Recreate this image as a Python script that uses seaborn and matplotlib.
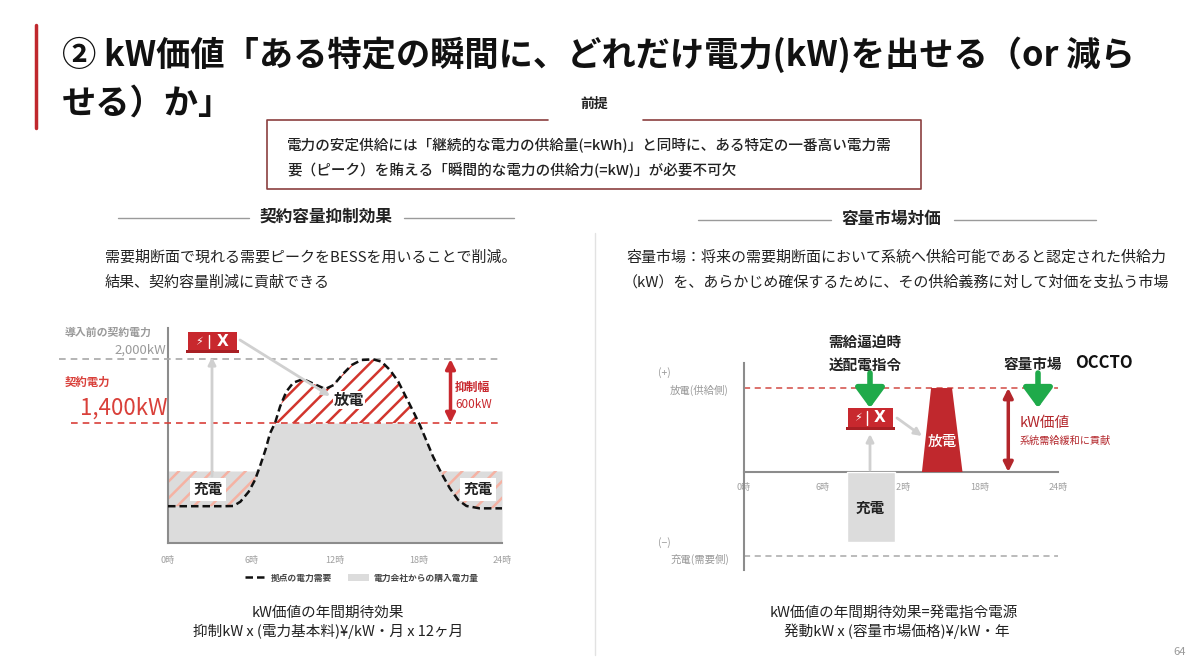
import numpy as np
import matplotlib
matplotlib.use('Agg')
import matplotlib.pyplot as plt
import seaborn as sns
from matplotlib.patches import Rectangle, Patch
from matplotlib.lines import Line2D

# ---- left chart: demand of the site (hour, kW) ----
demand_hours = [0, 1, 2, 3, 4, 4.7, 5.2, 5.8, 6.25, 6.6, 7.0, 7.33, 7.7, 8.05, 8.5, 9.0,
                9.7, 10.4, 11.3, 11.9, 12.5, 13.2, 13.9, 14.75, 15.35, 15.95, 16.55, 17.15,
                17.75, 18.1, 18.6, 19.05, 19.65, 20.25, 20.85, 21.45, 22.4, 24]
demand_kw = [620, 620, 620, 620, 620, 622, 662, 756, 866, 991, 1147, 1303, 1403, 1553, 1694, 1778,
             1812, 1772, 1719, 1756, 1850, 1944, 1991, 1997, 1975, 1897, 1787, 1631,
             1475, 1381, 1225, 1084, 928, 788, 678, 622, 600, 600]
contract_before_kw = 2000
contract_kw = 1400
charge_kw = 950
left_ylim = (275, 2291)

# ---- right chart: dispatch (hour, +1 discharge / -1 charge) ----
discharge_hours = [13.6, 14.3, 15.9, 16.7]
discharge_level = [0, 1, 1, 0]
charge_hours = [7.9, 11.55]
charge_level = -0.83
right_ylim = (-1.167, 1.298)

hour_ticks = [0, 6, 12, 18, 24]
hour_labels = ['0時', '6時', '12時', '18時', '24時']

RED = '#c8282e'
GRAY_FILL = '#dcdcdc'
TXT = '#222222'

sns.set_theme(style='white')
plt.rcParams['font.family'] = ['Noto Sans CJK JP', 'DejaVu Sans']
plt.rcParams['hatch.linewidth'] = 1.8

W, H = 1200, 666
fig = plt.figure(figsize=(12, 6.66), dpi=100)
fig.patch.set_facecolor('white')


def px_rect(x0, y0, x1, y1):
    return [x0 / W, (H - y1) / H, (x1 - x0) / W, (y1 - y0) / H]


ax1 = fig.add_axes(px_rect(168, 328, 502, 543))
ax2 = fig.add_axes(px_rect(744, 363, 1058, 570))
ax0 = fig.add_axes([0, 0, 1, 1])
ax0.set_xlim(0, W)
ax0.set_ylim(H, 0)
ax0.axis('off')
ax0.patch.set_alpha(0)

# ---------------- left chart ----------------
h = np.array(demand_hours, dtype=float)
d = np.array(demand_kw, dtype=float)
purchased = np.clip(d, charge_kw, contract_kw)

ax1.set_facecolor('none')
ax1.set_xlim(0, 24)
ax1.set_ylim(*left_ylim)
ax1.fill_between(h, left_ylim[0], purchased, color=GRAY_FILL, lw=0, zorder=1)
ax1.fill_between(h, contract_kw, d, where=d > contract_kw, interpolate=True,
                 facecolor='none', edgecolor='#d2352d', hatch='//', lw=0, zorder=2)
ax1.fill_between(h, d, charge_kw, where=d < charge_kw, interpolate=True,
                 facecolor='none', edgecolor='#f5b2a3', hatch='//', lw=0, zorder=2)
ax1.plot(h, d, color='#111111', lw=1.8, ls=(0, (3, 1.6)), zorder=4)
ax1.plot([-7.8, 24], [contract_before_kw] * 2, color='#a8a8a8', lw=1.2,
         ls=(0, (4, 3)), clip_on=False, zorder=3)
ax1.plot([-7.0, 24], [contract_kw] * 2, color='#d9403a', lw=1.2,
         ls=(0, (4, 3)), clip_on=False, zorder=3)
for s in ['top', 'right']:
    ax1.spines[s].set_visible(False)
for s in ['left', 'bottom']:
    ax1.spines[s].set_color('#8c8c8c')
    ax1.spines[s].set_linewidth(1.5)
ax1.set_xticks(hour_ticks)
ax1.set_xticklabels(hour_labels)
ax1.set_yticks([])
ax1.tick_params(axis='x', length=0, pad=9, labelsize=6.5, labelcolor='#a0a0a0')
ax1.annotate('', xy=(20.3, contract_before_kw), xytext=(20.3, contract_kw),
             arrowprops=dict(arrowstyle='<|-|>', color=RED, lw=2.5, mutation_scale=14,
                             shrinkA=0, shrinkB=0))
handles = [Line2D([0], [0], color='#111111', lw=1.8, ls=(0, (3, 1.6))),
           Patch(facecolor=GRAY_FILL, edgecolor='none')]
leg = ax1.legend(handles, ['拠点の電力需要', '電力会社からの購入電力量'], ncol=2, frameon=False,
                 loc='center', bbox_to_anchor=(0.58, -0.163), fontsize=6.3,
                 handlelength=2.4, columnspacing=1.8, handletextpad=0.5)
for t in leg.get_texts():
    t.set_color('#444444')
    t.set_fontweight('bold')

# ---------------- right chart ----------------
ax2.set_facecolor('none')
ax2.set_xlim(0, 24)
ax2.set_ylim(*right_ylim)
ax2.axhline(1, color='#d24a44', lw=1.1, ls=(0, (4, 3)), zorder=1)
ax2.axhline(-1, color='#a8a8a8', lw=1.1, ls=(0, (4, 3)), zorder=1)
ax2.fill(discharge_hours, discharge_level, color='#c0282d', lw=0, zorder=3)
ax2.bar([(charge_hours[0] + charge_hours[1]) / 2], [charge_level],
        width=charge_hours[1] - charge_hours[0], color=GRAY_FILL, zorder=3)
for s in ['top', 'right']:
    ax2.spines[s].set_visible(False)
ax2.spines['bottom'].set_position(('data', 0))
for s in ['left', 'bottom']:
    ax2.spines[s].set_color('#8c8c8c')
    ax2.spines[s].set_linewidth(1.5)
ax2.set_xticks(hour_ticks)
ax2.set_xticklabels(hour_labels)
ax2.set_yticks([])
ax2.tick_params(axis='x', length=0, pad=8, labelsize=6.5, labelcolor='#a0a0a0')
ax2.annotate('', xy=(20.2, 1), xytext=(20.2, 0),
             arrowprops=dict(arrowstyle='<|-|>', color='#b3262b', lw=2.5, mutation_scale=14,
                             shrinkA=0, shrinkB=0))


# ---------------- overlay: slide text and icons ----------------
def T(x, y, s, size=10.5, color=TXT, weight='normal', ha='left', **kw):
    ax0.text(x, y, s, fontsize=size, color=color, weight=weight, ha=ha, va='center', **kw)


def bess_icon(x0, y0, w, hh):
    ax0.add_patch(Rectangle((x0, y0), w, hh, color=RED, lw=0, zorder=6))
    ax0.add_patch(Rectangle((x0 - 2, y0 + hh - 2), w + 4, 2.5, color='#a81f24', lw=0, zorder=6))
    ax0.plot([x0 + w * 0.42] * 2, [y0 + 3, y0 + hh - 4], color='white', lw=1, zorder=7)
    ax0.text(x0 + w * 0.22, y0 + hh / 2, '⚡', color='white', fontsize=8, ha='center',
             va='center', family=['DejaVu Sans'], zorder=7)
    ax0.text(x0 + w * 0.7, y0 + hh / 2 - 0.5, 'X', color='white', fontsize=11, weight='bold',
             ha='center', va='center', family=['DejaVu Sans'], zorder=7)


def gray_arrow(x0, y0, x1, y1):
    ax0.annotate('', xy=(x1, y1), xytext=(x0, y0),
                 arrowprops=dict(arrowstyle='-|>', color='#d0d0d0', lw=2, mutation_scale=11,
                                 shrinkA=0, shrinkB=0), zorder=5)


def green_arrow(x, y0, y1):
    ax0.annotate('', xy=(x, y1), xytext=(x, y0),
                 arrowprops=dict(arrowstyle='-|>,head_width=0.55,head_length=0.75', color='#1faa4a',
                                 lw=4, mutation_scale=16, shrinkA=0, shrinkB=0), zorder=5)


# title
ax0.plot([36, 36], [25, 128], color='#c0282d', lw=2.5)
T(62, 55, '② kW価値「ある特定の瞬間に、どれだけ電力(kW)を出せる（or 減ら', size=24.7, weight='bold', color='#111111')
T(62, 103, 'せる）か」', size=24.7, weight='bold', color='#111111')

# premise box
T(594, 104, '前提', size=10, weight='bold', ha='center')
bc = '#8b3f3f'
ax0.plot([548, 267, 267, 921, 921, 643], [120, 120, 189, 189, 120, 120], color=bc, lw=1.2)
T(287, 146, '電力の安定供給には「継続的な電力の供給量(=kWh)」と同時に、ある特定の一番高い電力需', size=10.5, weight='medium')
T(287, 170, '要（ピーク）を賄える「瞬間的な電力の供給力(=kW)」が必要不可欠', size=10.5, weight='medium')

# section headers
ax0.plot([118, 249], [218, 218], color='#9a9a9a', lw=1)
ax0.plot([404, 514], [218, 218], color='#9a9a9a', lw=1)
T(326, 217, '契約容量抑制効果', size=12, weight='bold', ha='center')
ax0.plot([698, 831], [220, 220], color='#9a9a9a', lw=1)
ax0.plot([954, 1096], [220, 220], color='#9a9a9a', lw=1)
T(891, 219, '容量市場対価', size=12, weight='bold', ha='center')
ax0.plot([595, 595], [233, 655], color='#e2e2e2', lw=1)

T(105, 258, '需要期断面で現れる需要ピークをBESSを用いることで削減。', size=10.8)
T(105, 283, '結果、契約容量削減に貢献できる', size=10.8)
T(896, 257, '容量市場：将来の需要期断面において系統へ供給可能であると認定された供給力', size=10.8, ha='center')
T(896, 282, '（kW）を、あらかじめ確保するために、その供給義務に対して対価を支払う市場', size=10.8, ha='center')

# left chart annotations
T(65, 333, '導入前の契約電力', size=7.8, color='#9a9a9a', weight='bold')
T(166, 350, '2,000kW', size=9.5, color='#9a9a9a', ha='right')
T(65, 382, '契約電力', size=8.2, color='#d9403a', weight='bold')
T(167, 408, '1,400kW', size=16, color='#d9403a', ha='right')
T(455, 387, '抑制幅', size=8.5, color=RED, weight='bold')
T(455, 404, '600kW', size=8.5, color=RED)
gray_arrow(212, 476, 212, 357)
gray_arrow(240, 340, 330, 396)
bess_icon(188, 332, 49, 20)
T(349, 400, '放電', size=11, weight='bold', ha='center',
  bbox=dict(facecolor='white', edgecolor='none', pad=0.5))
for cx in [208, 478]:
    T(cx, 489, '充電', size=10.5, weight='bold', ha='center',
      bbox=dict(facecolor='white', edgecolor='none', pad=2.5))

# right chart annotations
T(658, 373, '(+)', size=7.5, color='#9a9a9a')
T(729, 390, '放電(供給側)', size=7.5, color='#9a9a9a', ha='right')
T(658, 543, '(−)', size=7.5, color='#9a9a9a')
T(729, 559, '充電(需要側)', size=7.5, color='#9a9a9a', ha='right')
T(865, 342, '需給逼迫時', size=10.5, weight='bold', ha='center')
T(865, 365, '送配電指令', size=10.5, weight='bold', ha='center')
T(1033, 364, '容量市場', size=10.5, weight='bold', ha='center')
T(1104, 363, 'OCCTO', size=12, weight='bold', ha='center', color='#111111')
green_arrow(870, 373, 408)
green_arrow(1038, 373, 408)
T(1020, 423, 'kW価値', size=10.5, color='#b3262b')
T(1020, 441, '系統需給緩和に貢献', size=7.3, color='#b3262b')
gray_arrow(870, 470, 870, 434)
gray_arrow(897, 418, 922, 436)
bess_icon(848, 408, 45, 21)
T(942, 442, '放電', size=10.5, color='white', weight='medium', ha='center')
T(870, 508, '充電', size=10.5, weight='bold', ha='center')

# bottom formulas
T(328, 613, 'kW価値の年間期待効果', size=10.5, ha='center')
T(328, 631, '抑制kW x (電力基本料)¥/kW・月 x 12ヶ月', size=10.5, ha='center')
T(894, 613, 'kW価値の年間期待効果=発電指令電源', size=10.5, ha='center')
T(897, 631, '発動kW x (容量市場価格)¥/kW・年', size=10.5, ha='center')
T(1180, 652, '64', size=8, color='#9a9a9a', ha='center')

fig.savefig('out.png', dpi=100)
